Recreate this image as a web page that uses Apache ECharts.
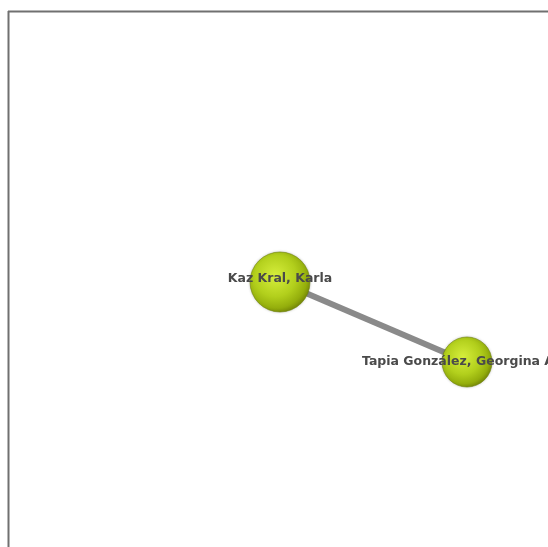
<!DOCTYPE html>
<html>
<head>
<meta charset="utf-8">
<script src="https://cdn.jsdelivr.net/npm/echarts@6/dist/echarts.min.js"></script>
<style>
  html, body { margin: 0; padding: 0; background: #fff; }
  #chart { width: 548px; height: 547px; }
</style>
</head>
<body>
<div id="chart"></div>
<script>
// node data (positions in pixel-like units of the canvas)
const nodeNames = ['Kaz Kral, Karla', 'Tapia González, Georgina A']
const nodeX = [280, 467]
const nodeY = [282, 362]
const nodeSize = [60, 50]
const linkPairs = [[0, 1]]

const chart = echarts.init(document.getElementById('chart'))

const ballColor = {
  type: 'radial',
  x: 0.42,
  y: 0.4,
  r: 0.62,
  colorStops: [
    { offset: 0, color: '#d6ee3c' },
    { offset: 0.55, color: '#b2cf1c' },
    { offset: 0.85, color: '#94ae0c' },
    { offset: 1, color: '#788a08' }
  ]
}

chart.setOption({
  animation: false,
  grid: { left: 0, right: 0, top: 0, bottom: 0 },
  xAxis: { type: 'value', min: 0, max: 548, show: false },
  yAxis: { type: 'value', min: 0, max: 547, inverse: true, show: false },
  graphic: [
    { type: 'line', shape: { x1: 8, y1: 11.5, x2: 548, y2: 11.5 }, style: { stroke: '#707070', lineWidth: 2 } },
    { type: 'line', shape: { x1: 8.5, y1: 11, x2: 8.5, y2: 547 }, style: { stroke: '#707070', lineWidth: 2 } }
  ],
  series: [
    {
      type: 'graph',
      coordinateSystem: 'cartesian2d',
      symbol: 'circle',
      data: nodeNames.map((name, i) => ({
        name,
        value: [nodeX[i], nodeY[i]],
        symbolSize: nodeSize[i],
        label: i === 1 ? { offset: [-9, 0] } : { offset: [0, -3] }
      })),
      links: linkPairs.map(p => ({ source: p[0], target: p[1] })),
      itemStyle: {
        color: ballColor,
        borderColor: 'rgba(110,130,10,0.6)',
        borderWidth: 1,
        shadowColor: 'rgba(0,0,0,0.2)',
        shadowBlur: 3
      },
      lineStyle: { color: '#8a8a8a', width: 6, opacity: 1 },
      label: {
        show: true,
        position: 'inside',
        color: '#4a4a4a',
        fontFamily: 'DejaVu Sans',
        fontWeight: 'bold',
        fontSize: 12.5
      },
      z: 2
    }
  ]
})
</script>
</body>
</html>
